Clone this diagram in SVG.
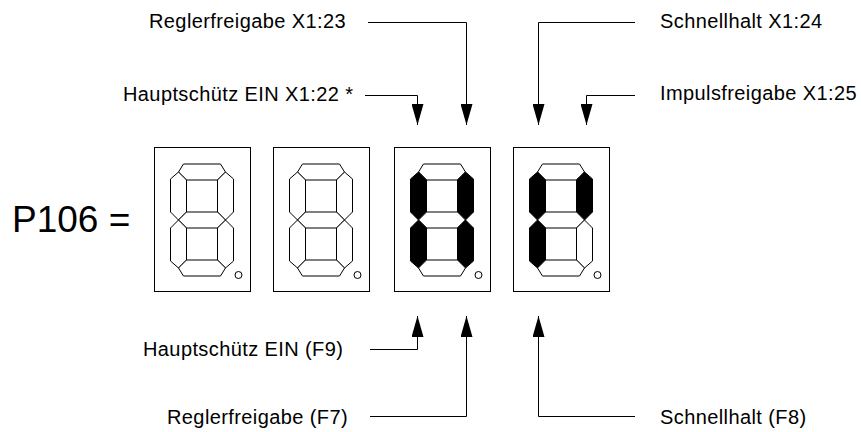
<svg xmlns="http://www.w3.org/2000/svg" xmlns:xlink="http://www.w3.org/1999/xlink" width="861" height="432" viewBox="0 0 861 432">
<style>
.lbl{font-family:"Liberation Sans",Arial,sans-serif;font-size:20px;letter-spacing:0.4px;fill:#000}
.big{font-family:"Liberation Sans",Arial,sans-serif;font-size:37px;fill:#000}
.box{fill:#fff;stroke:#000;stroke-width:1}
.seg{fill:#fff;stroke:#000;stroke-width:1;stroke-linejoin:miter}
.on{fill:#000}
.dp{fill:#fff;stroke:#000;stroke-width:1}
.conn{fill:none;stroke:#000;stroke-width:1}
</style>
<defs>
<marker id="ah" viewBox="0 0 21 12" refX="21" refY="6" markerWidth="21" markerHeight="12" markerUnits="userSpaceOnUse" orient="auto">
<path d="M0,0 L21,6 L0,12 z" fill="#000"/>
</marker>
<polygon id="sT" points="24.5,25 29.5,17 66.5,17 71.5,25 63.5,33 32.5,33"/>
<polygon id="sUL" points="24.5,25 32.5,33 32.5,65 24.5,73 16.5,65 16.5,32"/>
<polygon id="sUR" points="71.5,25 63.5,33 63.5,65 71.5,73 79.5,65 79.5,32"/>
<polygon id="sM" points="24.5,73 32.5,65 63.5,65 71.5,73 63.5,81 32.5,81"/>
<polygon id="sLL" points="24.5,73 32.5,81 32.5,113 24.5,121 16.5,114 16.5,81"/>
<polygon id="sLR" points="71.5,73 63.5,81 63.5,113 71.5,121 79.5,114 79.5,81"/>
<polygon id="sB" points="24.5,121 32.5,113 63.5,113 71.5,121 66.5,129 29.5,129"/>
</defs>
<rect width="861" height="432" fill="#fff"/>
<text class="big" x="12" y="232">P106 =</text>
<g id="digit1" transform="translate(154,147)">
<rect class="box" x="0.5" y="0.5" width="96" height="144"/>
<use href="#sT" class="seg"/><use href="#sUL" class="seg"/><use href="#sUR" class="seg"/><use href="#sM" class="seg"/><use href="#sLL" class="seg"/><use href="#sLR" class="seg"/><use href="#sB" class="seg"/>
<circle class="dp" cx="84.5" cy="128" r="3.5"/>
</g>
<g id="digit2" transform="translate(273,147)">
<rect class="box" x="0.5" y="0.5" width="96" height="144"/>
<use href="#sT" class="seg"/><use href="#sUL" class="seg"/><use href="#sUR" class="seg"/><use href="#sM" class="seg"/><use href="#sLL" class="seg"/><use href="#sLR" class="seg"/><use href="#sB" class="seg"/>
<circle class="dp" cx="84.5" cy="128" r="3.5"/>
</g>
<g id="digit3" transform="translate(394,147)">
<rect class="box" x="0.5" y="0.5" width="96" height="144"/>
<use href="#sT" class="seg"/><use href="#sUL" class="seg on"/><use href="#sUR" class="seg on"/><use href="#sM" class="seg"/><use href="#sLL" class="seg on"/><use href="#sLR" class="seg on"/><use href="#sB" class="seg"/>
<circle class="dp" cx="84.5" cy="128" r="3.5"/>
</g>
<g id="digit4" transform="translate(513,147)">
<rect class="box" x="0.5" y="0.5" width="96" height="144"/>
<use href="#sT" class="seg"/><use href="#sUL" class="seg on"/><use href="#sUR" class="seg on"/><use href="#sM" class="seg"/><use href="#sLL" class="seg on"/><use href="#sLR" class="seg"/><use href="#sB" class="seg"/>
<circle class="dp" cx="84.5" cy="128" r="3.5"/>
</g>
<g id="label-regler-x123"><text class="lbl" x="149" y="28">Reglerfreigabe X1:23</text></g>
<g id="label-haupt-x122"><text class="lbl" x="123" y="101">Hauptschütz EIN X1:22 *</text></g>
<g id="label-schnell-x124"><text class="lbl" x="660" y="28">Schnellhalt X1:24</text></g>
<g id="label-impuls-x125"><text class="lbl" x="660" y="100">Impulsfreigabe X1:25</text></g>
<g id="label-haupt-f9"><text class="lbl" x="143" y="356">Hauptschütz EIN (F9)</text></g>
<g id="label-regler-f7"><text class="lbl" x="167" y="424">Reglerfreigabe (F7)</text></g>
<g id="label-schnell-f8"><text class="lbl" x="660" y="424">Schnellhalt (F8)</text></g>
<g id="connectors">
<path class="conn" marker-end="url(#ah)" d="M368,22.5 H466.5 V125"/>
<path class="conn" marker-end="url(#ah)" d="M365,95.5 H417.5 V125"/>
<path class="conn" marker-end="url(#ah)" d="M635,22.5 H538.5 V125"/>
<path class="conn" marker-end="url(#ah)" d="M635,95.5 H586.5 V125"/>
<path class="conn" marker-end="url(#ah)" d="M370,349.5 H417.5 V316"/>
<path class="conn" marker-end="url(#ah)" d="M370,416.5 H466.5 V316"/>
<path class="conn" marker-end="url(#ah)" d="M635,416.5 H538.5 V316"/>
</g>
</svg>
